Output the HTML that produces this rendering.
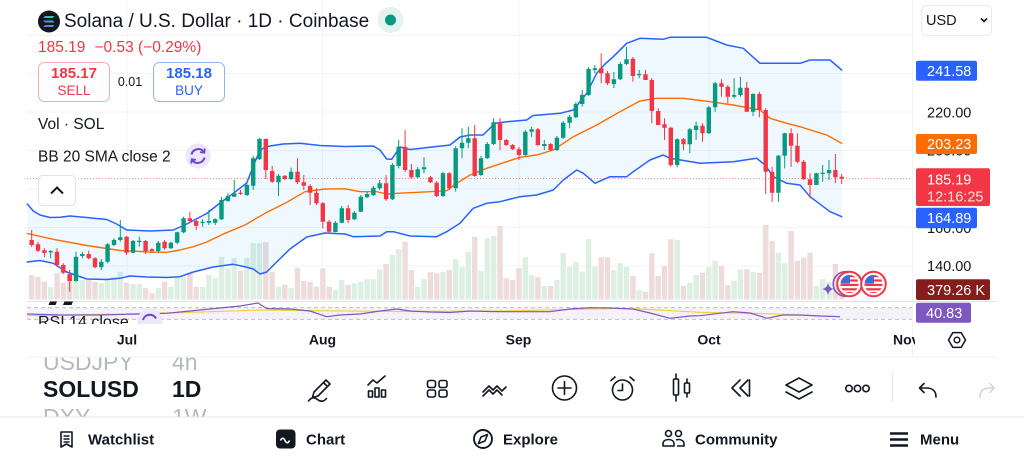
<!DOCTYPE html>
<html><head><meta charset="utf-8"><style>
html,body{margin:0;padding:0;background:#fff;}
body{width:1024px;height:461px;overflow:hidden;}
svg{display:block;font-family:"Liberation Sans",Arial,sans-serif;}
</style></head><body>
<svg width="1024" height="461" viewBox="0 0 1024 461" xmlns="http://www.w3.org/2000/svg">
<defs>
<clipPath id="nov"><rect x="0" y="320" width="915" height="40"/></clipPath>
<clipPath id="rsiclip"><rect x="27" y="302" width="885" height="22"/></clipPath>
<clipPath id="pick"><rect x="0" y="357.5" width="270" height="59"/></clipPath>
<clipPath id="fc"><circle cx="0" cy="0" r="9"/></clipPath>
<linearGradient id="sol" x1="0" y1="1" x2="1" y2="0"><stop offset="0" stop-color="#9945ff"/><stop offset="1" stop-color="#14f195"/></linearGradient>
<g id="flag">
<circle cx="0" cy="0" r="12.3" fill="#fff" stroke="#f23645" stroke-width="2"/>
<g clip-path="url(#fc)"><rect x="-9" y="-9" width="18" height="18" fill="#fff"/>
<rect x="-9" y="-9" width="18" height="2.2" fill="#f23645"/><rect x="-9" y="-4.6" width="18" height="2.2" fill="#f23645"/><rect x="-9" y="-0.2" width="18" height="2.2" fill="#f23645"/><rect x="-9" y="4.2" width="18" height="2.2" fill="#f23645"/><rect x="-9" y="8" width="18" height="2" fill="#f23645"/>
<rect x="-9" y="-9" width="9.5" height="8.6" fill="#3b6fd6"/></g>
</g>
</defs>

<!-- grid -->
<g stroke="#f2f3f5" stroke-width="1">
<path d="M27 35.5H912M27 73.5H912M27 112H912M27 150.5H912M27 189H912M27 227.5H912M27 266H912"/>
<path d="M127 0V300M322.5 0V300M519 0V300M709 0V300M912.5 0V357"/>
</g>

<!-- volume -->
<path fill="#dcefe2" d="M48 287.3h5.4V299.5h-5.4zM73.3 280h5.4V299.5h-5.4zM79.6 280h5.4V299.5h-5.4zM98.6 283.3h5.4V299.5h-5.4zM104.9 280h5.4V299.5h-5.4zM111.3 276.7h5.4V299.5h-5.4zM117.6 271.7h5.4V299.5h-5.4zM130.3 284h5.4V299.5h-5.4zM136.6 284h5.4V299.5h-5.4zM155.6 288.3h5.4V299.5h-5.4zM168.2 286.7h5.4V299.5h-5.4zM174.5 277.3h5.4V299.5h-5.4zM180.9 277.3h5.4V299.5h-5.4zM199.9 286.7h5.4V299.5h-5.4zM206.2 275h5.4V299.5h-5.4zM212.5 278.3h5.4V299.5h-5.4zM218.8 256.7h5.4V299.5h-5.4zM225.2 268.3h5.4V299.5h-5.4zM231.5 258.3h5.4V299.5h-5.4zM244.2 258h5.4V299.5h-5.4zM250.5 243h5.4V299.5h-5.4zM256.8 243h5.4V299.5h-5.4zM275.8 286.7h5.4V299.5h-5.4zM288.4 287.7h5.4V299.5h-5.4zM332.7 290h5.4V299.5h-5.4zM339.1 280h5.4V299.5h-5.4zM351.7 283.3h5.4V299.5h-5.4zM358.1 281.7h5.4V299.5h-5.4zM364.4 279.3h5.4V299.5h-5.4zM370.7 279.3h5.4V299.5h-5.4zM377 269.3h5.4V299.5h-5.4zM389.7 255h5.4V299.5h-5.4zM396 249.3h5.4V299.5h-5.4zM415 286.7h5.4V299.5h-5.4zM421.3 279.3h5.4V299.5h-5.4zM440.3 271.7h5.4V299.5h-5.4zM453 259.3h5.4V299.5h-5.4zM459.3 267.3h5.4V299.5h-5.4zM465.6 251.7h5.4V299.5h-5.4zM478.3 270.7h5.4V299.5h-5.4zM484.6 238.3h5.4V299.5h-5.4zM490.9 236h5.4V299.5h-5.4zM522.6 257.3h5.4V299.5h-5.4zM528.9 275h5.4V299.5h-5.4zM541.6 286h5.4V299.5h-5.4zM554.2 280h5.4V299.5h-5.4zM560.5 253.3h5.4V299.5h-5.4zM566.9 266.7h5.4V299.5h-5.4zM573.2 261.7h5.4V299.5h-5.4zM579.5 271.7h5.4V299.5h-5.4zM585.9 239.3h5.4V299.5h-5.4zM592.2 266.7h5.4V299.5h-5.4zM611.2 270h5.4V299.5h-5.4zM617.5 263.3h5.4V299.5h-5.4zM623.8 266.7h5.4V299.5h-5.4zM636.5 290h5.4V299.5h-5.4zM674.5 240h5.4V299.5h-5.4zM687.1 282.7h5.4V299.5h-5.4zM693.4 275h5.4V299.5h-5.4zM706.1 267.3h5.4V299.5h-5.4zM712.4 260.7h5.4V299.5h-5.4zM731.4 280.7h5.4V299.5h-5.4zM737.7 269.3h5.4V299.5h-5.4zM750.4 271.7h5.4V299.5h-5.4zM775.7 252.7h5.4V299.5h-5.4zM782 263.3h5.4V299.5h-5.4zM813.7 286h5.4V299.5h-5.4zM820 279.3h5.4V299.5h-5.4zM826.3 282h5.4V299.5h-5.4z"/>
<path fill="#eedcdc" d="M29 275h5.4V299.5h-5.4zM35.3 276.7h5.4V299.5h-5.4zM41.7 281.7h5.4V299.5h-5.4zM54.3 273.3h5.4V299.5h-5.4zM60.6 282.7h5.4V299.5h-5.4zM67 273.3h5.4V299.5h-5.4zM86 280h5.4V299.5h-5.4zM92.3 281.7h5.4V299.5h-5.4zM123.9 282.7h5.4V299.5h-5.4zM142.9 288.3h5.4V299.5h-5.4zM149.2 293.3h5.4V299.5h-5.4zM161.9 281.7h5.4V299.5h-5.4zM187.2 272.7h5.4V299.5h-5.4zM193.5 286.7h5.4V299.5h-5.4zM237.8 270.7h5.4V299.5h-5.4zM263.1 242.3h5.4V299.5h-5.4zM269.5 271.7h5.4V299.5h-5.4zM282.1 285h5.4V299.5h-5.4zM294.8 267.7h5.4V299.5h-5.4zM301.1 281h5.4V299.5h-5.4zM307.4 281.7h5.4V299.5h-5.4zM313.8 286.7h5.4V299.5h-5.4zM320.1 268.3h5.4V299.5h-5.4zM326.4 286.7h5.4V299.5h-5.4zM345.4 285h5.4V299.5h-5.4zM383.4 264h5.4V299.5h-5.4zM402.4 241.7h5.4V299.5h-5.4zM408.7 270h5.4V299.5h-5.4zM427.7 272.3h5.4V299.5h-5.4zM434 273.3h5.4V299.5h-5.4zM446.6 270h5.4V299.5h-5.4zM472 236.7h5.4V299.5h-5.4zM497.3 226h5.4V299.5h-5.4zM503.6 278.3h5.4V299.5h-5.4zM509.9 280h5.4V299.5h-5.4zM516.3 268.3h5.4V299.5h-5.4zM535.2 277.3h5.4V299.5h-5.4zM547.9 286h5.4V299.5h-5.4zM598.5 257.3h5.4V299.5h-5.4zM604.8 257.3h5.4V299.5h-5.4zM630.2 276h5.4V299.5h-5.4zM642.8 291.7h5.4V299.5h-5.4zM649.1 253.3h5.4V299.5h-5.4zM655.5 276h5.4V299.5h-5.4zM661.8 266h5.4V299.5h-5.4zM668.1 239.3h5.4V299.5h-5.4zM680.8 286h5.4V299.5h-5.4zM699.8 272.7h5.4V299.5h-5.4zM718.8 266h5.4V299.5h-5.4zM725.1 285h5.4V299.5h-5.4zM744.1 269.3h5.4V299.5h-5.4zM756.7 272.7h5.4V299.5h-5.4zM763 225h5.4V299.5h-5.4zM769.4 241h5.4V299.5h-5.4zM788.4 231h5.4V299.5h-5.4zM794.7 260.7h5.4V299.5h-5.4zM801 257.7h5.4V299.5h-5.4zM807.3 252.7h5.4V299.5h-5.4zM832.7 264h5.4V299.5h-5.4zM839 285h5.4V299.5h-5.4z"/>

<!-- BB fill -->
<polygon fill="rgba(33,150,243,0.07)" points="27.3,204 33.3,211 40,215 50,217.5 60,217.3 70,216 86.7,217.5 106.7,219.5 116.7,224 126.7,230 150,231 173.3,230 186.7,224 206.7,213.5 220,203 233.3,193.3 246.7,183 253.3,166 260,150 266.7,146.5 283,144 300,143.3 320,145.5 345,146.5 373.3,146 380,150 386.7,159 391.7,159.3 400,147 410,149.5 430,147.3 450,145 460,137 470,135 483,135 495,123.3 506.7,121.7 526.7,120 533,115.5 560,113.3 573.3,110 586.7,93.3 596.7,73.3 605,64 613.3,56.7 626.7,43.3 640,38.3 663.3,39.3 670,37.3 706.7,37.3 726.7,45 743.3,48.3 760,63.3 773.3,63.3 800,63.3 810,60 830,60 841.7,70 841.7,216.7 830,211.7 810,196.7 800,185 786.7,183.3 773.3,176.7 765,165 756.7,158.3 733.3,161.7 700,163.3 670,158.3 663.3,155 650,160 633.3,171.7 626.7,176.7 610,176.7 595,183.3 583.3,173.3 576.7,170 563.3,180 553.3,190 536.7,195 520,196.7 500,201.7 486.7,203.3 473.3,208.3 460,223.3 446.7,231.7 436.7,236.7 410,236 393.3,231.7 386.7,231.7 380,236 353.3,236.7 345,234 325,233 306.7,237 290,249 276.7,262 266.7,272 260,274 253.3,269 246,267 233.3,264.3 213.3,267 193.3,272 180,276.7 166.7,277.5 146.7,277 130,276 120,278.3 106.7,279.5 86.7,279 66.7,272 53.3,263.3 40,260.5 27.3,262"/>
<g fill="none" stroke-linejoin="round" stroke-linecap="round">
<polyline stroke="#2962ff" stroke-width="1.5" points="27.3,204 33.3,211 40,215 50,217.5 60,217.3 70,216 86.7,217.5 106.7,219.5 116.7,224 126.7,230 150,231 173.3,230 186.7,224 206.7,213.5 220,203 233.3,193.3 246.7,183 253.3,166 260,150 266.7,146.5 283,144 300,143.3 320,145.5 345,146.5 373.3,146 380,150 386.7,159 391.7,159.3 400,147 410,149.5 430,147.3 450,145 460,137 470,135 483,135 495,123.3 506.7,121.7 526.7,120 533,115.5 560,113.3 573.3,110 586.7,93.3 596.7,73.3 605,64 613.3,56.7 626.7,43.3 640,38.3 663.3,39.3 670,37.3 706.7,37.3 726.7,45 743.3,48.3 760,63.3 773.3,63.3 800,63.3 810,60 830,60 841.7,70"/>
<polyline stroke="#2962ff" stroke-width="1.5" points="27.3,262 40,260.5 53.3,263.3 66.7,272 86.7,279 106.7,279.5 120,278.3 130,276 146.7,277 166.7,277.5 180,276.7 193.3,272 213.3,267 233.3,264.3 246,267 253.3,269 260,274 266.7,272 276.7,262 290,249 306.7,237 325,233 345,234 353.3,236.7 380,236 386.7,231.7 393.3,231.7 410,236 436.7,236.7 446.7,231.7 460,223.3 473.3,208.3 486.7,203.3 500,201.7 520,196.7 536.7,195 553.3,190 563.3,180 576.7,170 583.3,173.3 595,183.3 610,176.7 626.7,176.7 633.3,171.7 650,160 663.3,155 670,158.3 700,163.3 733.3,161.7 756.7,158.3 765,165 773.3,176.7 786.7,183.3 800,185 810,196.7 830,211.7 841.7,216.7"/>
<polyline stroke="#ff6d00" stroke-width="1.4" points="27.3,233.5 53.3,239.3 86.7,245.5 120,250.5 150,252 166.7,252.3 180,250 193.3,246.7 206.7,242 225,233.3 245,225 265,213.3 285,203.3 305,191.7 325,189 345,188.8 360,191.7 376.7,191.7 386.7,194 396.7,193.3 430,191.7 446.7,190.7 456.7,183.3 470,175 486.7,168.3 506.7,161.7 520,157.3 536.7,155 553.3,150 573.3,136.7 596.7,125 620,111.7 640,101 656.7,98.3 683.3,98.3 696.7,100 710,101.7 733.3,105 760,110 770,118.3 786.7,123.3 800,126.7 826.7,135 841.7,143.3"/>
</g>

<!-- current price line -->
<path d="M27 178.5H912" stroke="#f23645" stroke-width="1" stroke-dasharray="1 2" opacity="0.55"/>

<!-- candles -->
<path stroke="#089981" stroke-width="1" fill="none" d="M50.7 250V258.3M76 251.7V281.7M82.3 251.7V258.3M101.3 259V270M107.6 243.3V263.3M114 238.3V246M120.3 220V241.7M133 240V253M139.3 236.7V246.7M158.3 241V252.7M170.9 241.7V249M177.2 231.7V244.3M183.6 216.7V233.3M202.6 219.3V226.7M208.9 210V225M215.2 218.3V225M221.5 196.7V220M227.9 193.3V201.7M234.2 180V197M246.9 183V196M253.2 156V190M259.5 138V160M278.5 174V196M291.1 167.7V180M335.4 221V232.3M341.8 206V223.3M354.4 211V220M360.8 195V212M367.1 192V198M373.4 186V196M379.7 180V190M392.4 163V200M398.7 140V168.3M417.7 167V178M424 157.3V173.3M443 172V197M455.7 146V191.7M462 128.3V158.3M468.3 126.7V148.3M481 156V176M487.3 142V159M493.6 118.3V145M525.3 130V156M531.6 126.7V136.7M544.3 140V150M556.9 136V151M563.2 121V139M569.6 115V128.3M575.9 101.7V118.3M582.2 90V106.7M588.6 67V96M594.9 65V73.3M613.9 72V88M620.2 62V80M626.5 46.7V65M639.2 70V78.3M677.2 138.3V167.3M689.8 128V153.3M696.1 121.7V140M708.8 106V134M715.1 81.7V111.7M734.1 78.3V98.3M740.4 76.7V96.7M753.1 93.3V116M778.4 155V201.7M784.7 132.7V168.3M816.4 172.7V185M822.7 165V181.7M829 160V180"/>
<path fill="#089981" d="M48.5 251h4.4v1.3h-4.4zM73.8 256.7h4.4v24.3h-4.4zM80.1 254h4.4v2h-4.4zM99.1 261.7h4.4v5.6h-4.4zM105.4 244.3h4.4v17.4h-4.4zM111.8 240h4.4v5h-4.4zM118.1 237.3h4.4v2.7h-4.4zM130.8 241h4.4v11.7h-4.4zM137.1 240.7h4.4v1.3h-4.4zM156.1 242.7h4.4v8.3h-4.4zM168.7 242.7h4.4v5.6h-4.4zM175 232.3h4.4v10.4h-4.4zM181.4 218.3h4.4v14h-4.4zM200.4 221.7h4.4v1.2h-4.4zM206.7 221h4.4v1.7h-4.4zM213 219.3h4.4v3.4h-4.4zM219.3 200h4.4v19.3h-4.4zM225.7 196h4.4v5h-4.4zM232 193.3h4.4v3.4h-4.4zM244.7 185h4.4v10h-4.4zM251 158.3h4.4v27.4h-4.4zM257.3 139h4.4v20.3h-4.4zM276.3 175.7h4.4v6.6h-4.4zM288.9 171.7h4.4v7.3h-4.4zM333.2 222.7h4.4v9.3h-4.4zM339.6 208.3h4.4v14.4h-4.4zM352.2 212.7h4.4v6.6h-4.4zM358.6 196.7h4.4v15h-4.4zM364.9 194h4.4v3.3h-4.4zM371.2 187.7h4.4v7.3h-4.4zM377.5 183.3h4.4v5h-4.4zM390.2 165h4.4v34.3h-4.4zM396.5 146.7h4.4v19.3h-4.4zM415.5 169.3h4.4v8h-4.4zM421.8 167.3h4.4v2h-4.4zM440.8 173.3h4.4v22.7h-4.4zM453.5 148.3h4.4v40h-4.4zM459.8 142.7h4.4v5.6h-4.4zM466.1 138.3h4.4v4.4h-4.4zM478.8 158.3h4.4v16.7h-4.4zM485.1 144h4.4v14.3h-4.4zM491.4 122.3h4.4v21.7h-4.4zM523.1 131.7h4.4v23.3h-4.4zM529.4 129.3h4.4v2.4h-4.4zM542.1 144h4.4v2h-4.4zM554.7 137.7h4.4v12.3h-4.4zM561 122.7h4.4v15h-4.4zM567.4 116.7h4.4v6h-4.4zM573.7 104h4.4v13.3h-4.4zM580 95h4.4v9h-4.4zM586.4 69h4.4v26h-4.4zM592.7 68.3h4.4v1.7h-4.4zM611.7 79.3h4.4v4.7h-4.4zM618 64h4.4v15.3h-4.4zM624.3 59.3h4.4v4.7h-4.4zM637 74h4.4v1.2h-4.4zM675 139.3h4.4v25.7h-4.4zM687.6 129.3h4.4v15h-4.4zM693.9 125.7h4.4v4.3h-4.4zM706.6 107.3h4.4v26h-4.4zM712.9 83.3h4.4v24h-4.4zM731.9 95h4.4v1.7h-4.4zM738.2 87.7h4.4v7.3h-4.4zM750.9 94h4.4v17.7h-4.4zM776.2 155.7h4.4v37h-4.4zM782.5 133.3h4.4v22.4h-4.4zM814.2 173.3h4.4v11.7h-4.4zM820.5 172.7h4.4v1.3h-4.4zM826.8 170h4.4v3.3h-4.4z"/>
<path stroke="#f23645" stroke-width="1" fill="none" d="M31.7 230V247M38 242V252M44.4 248.3V257.3M57 248.3V266.7M63.3 263.3V274M69.7 270V291.7M88.7 250.7V259.3M95 257.3V268.3M126.6 236V255M145.6 240V254M151.9 248.3V252.7M164.6 240V250M189.9 211.7V223.3M196.2 218.3V230M240.5 190V195M265.8 138.5V179M272.2 165.7V183M284.8 175V180M297.5 158.3V184M303.8 175V190M310.1 184.3V205M316.5 188.3V205M322.8 202V228.3M329.1 220V233.3M348.1 205V223.3M386.1 175V200.7M405.1 130V172M411.4 164V179M430.4 176V183M436.7 181V197M449.3 172V190M474.7 125V176.7M500 118.3V150M506.3 139V146M512.6 144V150M519 146.7V160M537.9 128V146M550.6 143V151M601.2 53.3V83.3M607.5 71V85M632.9 57V81.7M645.5 70V80M651.8 78V123.3M658.2 108.3V125M664.5 118.3V140M670.8 126.7V166.7M683.5 138V150M702.5 123.3V141.7M721.5 79.3V96.7M727.8 85V103.3M746.8 81.7V111.7M759.4 91.7V117.3M765.7 108.3V194M772.1 166.7V201.7M791.1 128.3V166.7M797.4 133.3V163.3M803.7 160V180M810 173.3V198.3M835.4 154V183.3M841.7 174V184"/>
<path fill="#f23645" d="M29.5 240h4.4v5h-4.4zM35.8 244.3h4.4v6.4h-4.4zM42.2 250.3h4.4v2.7h-4.4zM54.8 251.7h4.4v13.3h-4.4zM61.1 265h4.4v7.7h-4.4zM67.5 274.3h4.4v6.7h-4.4zM86.5 254h4.4v4.3h-4.4zM92.8 258.3h4.4v9h-4.4zM124.4 236.7h4.4v16h-4.4zM143.4 241h4.4v10h-4.4zM149.7 249.3h4.4v1.7h-4.4zM162.4 241.7h4.4v6.6h-4.4zM187.7 218.3h4.4v2.7h-4.4zM194 221h4.4v4.7h-4.4zM238.3 192.7h4.4v1.2h-4.4zM263.6 139h4.4v31h-4.4zM270 171h4.4v10.7h-4.4zM282.6 175.7h4.4v3.3h-4.4zM295.3 171.7h4.4v10.6h-4.4zM301.6 182.3h4.4v3.4h-4.4zM307.9 186h4.4v6.7h-4.4zM314.3 192.7h4.4v10.6h-4.4zM320.6 203.3h4.4v18.4h-4.4zM326.9 221.7h4.4v10h-4.4zM345.9 208.3h4.4v11.7h-4.4zM383.9 183.3h4.4v16h-4.4zM402.9 146.7h4.4v23.3h-4.4zM409.2 170h4.4v7.3h-4.4zM428.2 177.3h4.4v5h-4.4zM434.5 182.7h4.4v13.3h-4.4zM447.1 173.3h4.4v15h-4.4zM472.5 138.3h4.4v37.7h-4.4zM497.8 122.3h4.4v17.7h-4.4zM504.1 140h4.4v5h-4.4zM510.4 145h4.4v4.3h-4.4zM516.8 149.3h4.4v5.7h-4.4zM535.7 129.3h4.4v15.7h-4.4zM548.4 144h4.4v6h-4.4zM599 68.3h4.4v5h-4.4zM605.3 73.3h4.4v10h-4.4zM630.7 58.7h4.4v17.3h-4.4zM643.3 74.3h4.4v5.7h-4.4zM649.6 80h4.4v31h-4.4zM656 111h4.4v14h-4.4zM662.3 124.3h4.4v3.4h-4.4zM668.6 127.7h4.4v37.3h-4.4zM681.3 139.3h4.4v5h-4.4zM700.3 125.7h4.4v7.6h-4.4zM719.3 83.3h4.4v3.4h-4.4zM725.6 86.7h4.4v10h-4.4zM744.6 87.7h4.4v24h-4.4zM757.2 94h4.4v16h-4.4zM763.5 110h4.4v61.7h-4.4zM769.9 171.7h4.4v21h-4.4zM788.9 133.3h4.4v12.4h-4.4zM795.2 145.7h4.4v16h-4.4zM801.5 161.7h4.4v17.6h-4.4zM807.8 179.3h4.4v5.7h-4.4zM833.2 170h4.4v7.3h-4.4zM839.5 176.7h4.4v2h-4.4z"/>

<!-- event icons -->
<circle cx="845.5" cy="284" r="12.3" fill="none" stroke="#7e57c2" stroke-width="1.6"/>
<path d="M828 283Q829 288.3 834 289Q829 289.7 828 295Q827 289.7 822 289Q827 288.3 828 283Z" fill="#7e57c2"/>
<use href="#flag" x="849.5" y="284"/>
<use href="#flag" x="873.5" y="284"/>

<!-- pane divider + RSI -->
<path d="M27 301.5H997" stroke="#e0e3eb" stroke-width="1"/>
<rect x="27" y="307.7" width="885" height="11.6" fill="rgba(126,87,194,0.08)"/>
<path d="M27 307.7H912M27 319.3H912" stroke="#b2b5be" stroke-width="0.8" stroke-dasharray="4 3"/>
<path d="M27 313.5H912" stroke="#d8d9e0" stroke-width="0.6" stroke-dasharray="2 3"/>
<polyline fill="none" stroke="#f5d03a" stroke-width="1.2" points="27,315.7 100,314.5 200,312 260,310 300,310.5 400,311.5 500,311 626.7,308.3 700,312.3 760,313.5 840,316.7"/>
<polyline fill="none" stroke="#7e57c2" stroke-width="1.2" stroke-linejoin="round" points="27,314 60,315 100,315 140,314 166.7,313.3 190,311 220,308 240,306 258,303 266.7,308.5 290,309 310,311 326.7,316.7 340,315 360,314 380,311 396.7,309 410,311 430,312 450,312.5 470,311 490,311.5 500,311.7 550,311.7 570,309 590,307.7 610,308 633,309 650,313 670,318.3 690,316 700,315.7 733,311.7 750,313 767,318.3 783,315 800,315 820,316 840,316.7"/>
<g clip-path="url(#rsiclip)">
<text x="38" y="327" font-size="16" fill="#131722">RSI 14 close</text>
<circle cx="150" cy="321" r="12.5" fill="#ede7f9"/>
<path d="M143 320a7 7 0 0 1 13 -1.5" fill="none" stroke="#6b45d8" stroke-width="2"/>
</g>
<path d="M50 301.5h7l-1.5 3.5h-7zM64.5 301.5h8.5l-1.5 3.5h-8.5z" fill="#131722"/>

<!-- header -->
<circle cx="49" cy="21.5" r="11" fill="#131722"/>
<path d="M45 16h9.5l-2 2h-9.5zM43 20.5h9.5l2 2h-9.5zM45 25h9.5l-2 2h-9.5z" fill="url(#sol)"/>
<text x="64" y="27" font-size="19" fill="#131722">Solana / U.S. Dollar · 1D · Coinbase</text>
<circle cx="390.5" cy="20" r="13" fill="#e3f3ef"/>
<circle cx="390.5" cy="20" r="5.5" fill="#089981"/>
<text x="38" y="52" font-size="15.5" fill="#f23645">185.19</text>
<text x="94.5" y="52" font-size="15.5" fill="#f23645">−0.53 (−0.29%)</text>
<rect x="38.5" y="62.5" width="71" height="39" rx="6" fill="#fff" stroke="#f7a9af" stroke-width="1"/>
<text x="74" y="78" font-size="15" font-weight="bold" fill="#f23645" text-anchor="middle">185.17</text>
<text x="74" y="95" font-size="13.5" fill="#f23645" text-anchor="middle">SELL</text>
<text x="130" y="86" font-size="12.5" fill="#131722" text-anchor="middle">0.01</text>
<rect x="153.5" y="62.5" width="71" height="39" rx="6" fill="#fff" stroke="#91b1fb" stroke-width="1"/>
<text x="189" y="78" font-size="15" font-weight="bold" fill="#2962ff" text-anchor="middle">185.18</text>
<text x="189" y="95" font-size="13.5" fill="#2962ff" text-anchor="middle">BUY</text>

<text x="38" y="129" font-size="15.5" fill="#131722">Vol · SOL</text>
<text x="38" y="161.5" font-size="15.5" fill="#131722">BB 20 SMA close 2</text>
<circle cx="198" cy="156" r="12.5" fill="#ede7f9"/>
<path d="M191.5 154.5a7 7 0 0 1 12.5 -2.5M204.5 157.5a7 7 0 0 1 -12.5 2.5" fill="none" stroke="#6b45d8" stroke-width="2"/>
<path d="M204.8 148.5l-0.5 4.2-4.2-0.6M191.2 163.5l0.5-4.2 4.2 0.6" fill="none" stroke="#6b45d8" stroke-width="1.8"/>
<rect x="38.5" y="175.5" width="37" height="30" rx="4" fill="#fff" stroke="#e0e3eb"/>
<polyline points="51,193.5 57,187.5 63,193.5" fill="none" stroke="#131722" stroke-width="2"/>

<!-- right axis -->
<rect x="921.5" y="5.5" width="70" height="30" rx="5" fill="#fff" stroke="#e9ebf0"/>
<text x="926" y="25" font-size="14.5" fill="#131722">USD</text>
<polyline points="981,18.5 984,21.5 987,18.5" fill="none" stroke="#131722" stroke-width="1.6"/>
<g font-size="14.5" fill="#131722">
<text x="927" y="117.5">220.00</text>
<text x="927" y="155.5">200.00</text>
<text x="927" y="233">160.00</text>
<text x="927" y="271">140.00</text>
</g>
<rect x="916" y="60.7" width="61" height="20" rx="2" fill="#2962ff"/>
<text x="927" y="75.8" font-size="14.5" fill="#fff">241.58</text>
<rect x="916" y="134" width="61" height="20" rx="2" fill="#ff6d00"/>
<text x="927" y="149" font-size="14.5" fill="#fff">203.23</text>
<rect x="916" y="168.3" width="74" height="37.7" rx="2" fill="#f23645"/>
<text x="927" y="184.5" font-size="14.5" fill="#fff">185.19</text>
<text x="927" y="201.5" font-size="14.5" fill="#fde1e3">12:16:25</text>
<rect x="916" y="207.7" width="61" height="20.6" rx="2" fill="#2962ff"/>
<text x="927" y="223" font-size="14.5" fill="#fff">164.89</text>
<rect x="916" y="279.3" width="74" height="20.7" rx="2" fill="#861d1d"/>
<text x="927" y="295" font-size="14.5" fill="#fff">379.26 K</text>
<rect x="916" y="302.7" width="55" height="20" rx="2" fill="#7e57c2"/>
<text x="926" y="318" font-size="14.5" fill="#fff">40.83</text>

<!-- time axis -->
<g font-size="14" font-weight="bold" fill="#131722" text-anchor="middle">
<text x="127" y="344.5">Jul</text>
<text x="322.5" y="344.5">Aug</text>
<text x="518.5" y="344.5">Sep</text>
<text x="709" y="344.5">Oct</text>
<text x="893" y="344.5" text-anchor="start" clip-path="url(#nov)">Nov</text>
</g>
<polygon points="948.5,340 952.8,332.6 961.2,332.6 965.5,340 961.2,347.4 952.8,347.4" fill="none" stroke="#131722" stroke-width="1.5"/>
<circle cx="957" cy="340" r="2.8" fill="none" stroke="#131722" stroke-width="1.5"/>

<path d="M27 357H997" stroke="#f0f3fa" stroke-width="1.2"/>
<path d="M0 417H1024" stroke="#e9ebf0" stroke-width="1.2"/>

<!-- symbol picker -->
<g clip-path="url(#pick)">
<text x="43" y="370" font-size="23" fill="#b5b8c0">USDJPY</text>
<text x="172" y="370" font-size="23" fill="#b5b8c0">4h</text>
<text x="43" y="397" font-size="23" font-weight="bold" fill="#131722">SOLUSD</text>
<text x="172" y="397" font-size="23" font-weight="bold" fill="#131722">1D</text>
<text x="43" y="425" font-size="23" fill="#b5b8c0">DXY</text>
<text x="172" y="425" font-size="23" fill="#b5b8c0">1W</text>
</g>

<!-- toolbar icons -->
<g fill="none" stroke="#131722" stroke-width="1.6" stroke-linecap="round" stroke-linejoin="round">
<path d="M314 392L326 380L330 384L318 396L312.5 397.5Z M323.5 382.5L327.5 386.5"/>
<path d="M308.5 401c3-4 6-4 9-1.5s6 2.5 9-1"/>
<path d="M368 385l5-5 4 3 8-7"/>
<rect x="368.5" y="391" width="4" height="6"/><rect x="375" y="388" width="4" height="9"/><rect x="381.5" y="390" width="4" height="7"/>
<rect x="427.5" y="380.5" width="8" height="7" rx="2"/><rect x="439" y="380.5" width="8" height="7" rx="2"/><rect x="427.5" y="390" width="8" height="7" rx="2"/><rect x="439" y="390" width="8" height="7" rx="2"/>
<path d="M483 392l6-6 4 4 4-4 5 5 4-4M483 396l6-6 4 4 4-4 5 5"/>
<circle cx="564.5" cy="388" r="12"/><path d="M564.5 381.5v13M558 388h13"/>
<circle cx="622.5" cy="390" r="10"/><path d="M622.5 384v6.5h-4.5M611 380.5l4-3.5M634 380.5l-4-3.5"/>
<rect x="673.5" y="379" width="5" height="16" rx="1"/><path d="M676 374v5M676 395v6"/>
<rect x="684.5" y="383" width="5" height="10" rx="1"/><path d="M687 379v4M687 393v4"/>
<path d="M740 380l-8 8 8 8M748 380l-8 8 8 8M749.5 380v16"/>
<path d="M786 385L799 378L812 385L799 392ZM786 392L799 399L812 392"/>
<circle cx="849" cy="388.5" r="3.2"/><circle cx="857.5" cy="388.5" r="3.2"/><circle cx="866" cy="388.5" r="3.2"/>
<path d="M936 397c0-6-3-9-10-9h-6M924 383.5l-4.5 4.5 4.5 4.5"/>
</g>
<path d="M892.5 373V402" stroke="#e0e3eb" stroke-width="1"/>
<path d="M980 397c0-6 3-9 10-9h3M990 383.5l4 4.5-4 4.5" fill="none" stroke="#d1d4dc" stroke-width="1.6" stroke-linecap="round" stroke-linejoin="round"/>

<!-- bottom nav -->
<g fill="none" stroke="#131722" stroke-width="1.6" stroke-linejoin="round">
<path d="M61 432h11v15l-5.5-3-5.5 3z"/><path d="M63.5 436h6M63.5 439h6M63.5 442h6"/>
<circle cx="483" cy="439" r="9" stroke-width="1.9"/><path d="M487.5 434.5l-2.5 6.5-6.5 2.5 2.5-6.5z"/>
<circle cx="668.5" cy="433.5" r="3"/><circle cx="678.5" cy="433.5" r="3"/>
<path d="M663 446v-2c0-3 2.5-4.5 5.5-4.5s5.5 1.5 5.5 4.5v2zM676 440c1-0.4 1.7-0.5 2.5-0.5 3 0 5.5 1.5 5.5 4.5v2h-7"/>
</g>
<rect x="276" y="429.5" width="19.5" height="19" rx="4" fill="#131722"/>
<path d="M280.5 440.5c1.5-3 3-3 4.5 0s3 3 4.5 0" fill="none" stroke="#fff" stroke-width="1.6"/>
<path d="M890 433.5h18M890 439.5h18M890 445.5h18" stroke="#131722" stroke-width="2.6"/>
<g font-size="15" font-weight="bold" fill="#131722">
<text x="88" y="444.5">Watchlist</text>
<text x="306" y="444.5">Chart</text>
<text x="503" y="444.5">Explore</text>
<text x="695" y="444.5">Community</text>
<text x="920" y="444.5">Menu</text>
</g>
</svg>
</body></html>
